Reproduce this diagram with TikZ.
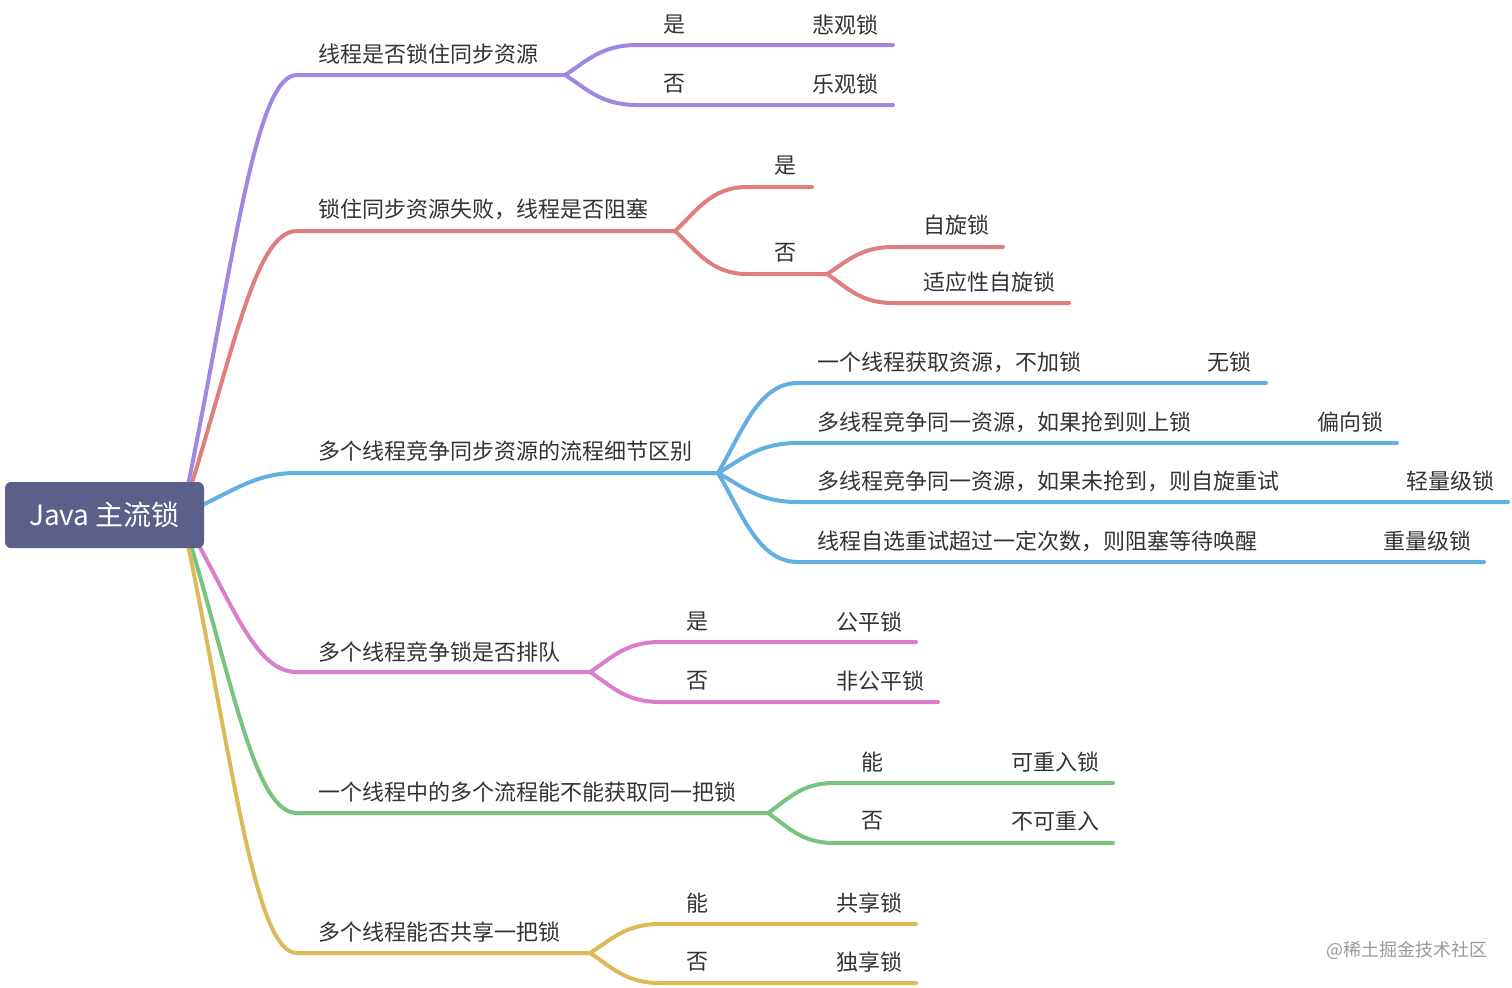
\documentclass[tikz,border=0pt]{standalone}
\usepackage{fontspec}
\setmainfont{Noto Sans CJK SC}
\usetikzlibrary{calc}
\definecolor{RootSlate}{HTML}{5B5F8A}
\definecolor{LabelGray}{HTML}{333333}
\definecolor{BrPurple}{HTML}{A087E1}
\definecolor{BrRed}{HTML}{E07D7D}
\definecolor{BrBlue}{HTML}{63AFE2}
\definecolor{BrPink}{HTML}{DA7DCD}
\definecolor{BrGreen}{HTML}{78C37E}
\definecolor{BrYellow}{HTML}{DEB95A}

\tikzset{
  branch/.style={line width=2pt, line cap=round},
  lbl/.style={anchor=west, inner sep=0pt, text=LabelGray, font=\fontsize{11}{13}\selectfont},
  rootbox/.style={fill=RootSlate, rounded corners=3pt, minimum width=99.5pt,
    minimum height=33pt, text=white, font=\fontsize{14}{17}\selectfont},
}
% curve from the hub, then straight on
\newcommand{\rootcurve}[4]{\draw[branch,#1] (#2) let \p1=(#2), \p2=(#3) in
  .. controls ({\x1+0.45*(\x2-\x1)},{\y1+0.57*(\y2-\y1)}) and ({\x1+0.63*(\x2-\x1)},\y2) .. (#3) -- (#4);}
% fork of a sub branch
\newcommand{\forkcurve}[4]{\draw[branch,#1] (#2) let \p1=(#2), \p2=(#3) in
  .. controls ({\x1+0.3*(\x2-\x1)},{\y1+0.45*(\y2-\y1)}) and ({\x1+0.5*(\x2-\x1)},\y2) .. (#3) -- (#4);}

\begin{document}
\begin{tikzpicture}[x=0.5pt, y=-0.5pt]
  \useasboundingbox (0,0) rectangle (1512,987);

  % hub and first level
  \coordinate (hub) at (182,515);
  \coordinate (b1) at (297,75);  \coordinate (f1) at (565,75);
  \coordinate (b2) at (297,231); \coordinate (f2) at (675,231);
  \coordinate (b3) at (297,473); \coordinate (f3) at (718,473);
  \coordinate (b4) at (297,672); \coordinate (f4) at (590,672);
  \coordinate (b5) at (297,813); \coordinate (f5) at (768,813);
  \coordinate (b6) at (297,953); \coordinate (f6) at (590,953);

  \rootcurve{BrPurple}{hub}{b1}{f1}
  \rootcurve{BrRed}{hub}{b2}{f2}
  \rootcurve{BrBlue}{hub}{b3}{f3}
  \rootcurve{BrPink}{hub}{b4}{f4}
  \rootcurve{BrGreen}{hub}{b5}{f5}
  \rootcurve{BrYellow}{hub}{b6}{f6}

  \node[lbl] (t1) at (318,54)  {线程是否锁住同步资源};
  \node[lbl] (t2) at (318,209) {锁住同步资源失败，线程是否阻塞};
  \node[lbl] (t3) at (318,451) {多个线程竞争同步资源的流程细节区别};
  \node[lbl] (t4) at (318,652) {多个线程竞争锁是否排队};
  \node[lbl] (t5) at (318,792) {一个线程中的多个流程能不能获取同一把锁};
  \node[lbl] (t6) at (318,932) {多个线程能否共享一把锁};

  % purple: pessimistic / optimistic
  \coordinate (c1a) at (637,45);  \coordinate (e1a) at (893,45);
  \coordinate (c1b) at (637,105); \coordinate (e1b) at (893,105);
  \forkcurve{BrPurple}{f1}{c1a}{e1a}
  \forkcurve{BrPurple}{f1}{c1b}{e1b}
  \node[lbl] (y1) at (663,25) {是};   \node[lbl] (k1a) at (812,25) {悲观锁};
  \node[lbl] (n1) at (663,84) {否};   \node[lbl] (k1b) at (812,84) {乐观锁};

  % red: blocking
  \coordinate (c2a) at (747,187); \coordinate (e2a) at (812,187);
  \coordinate (c2b) at (747,274); \coordinate (f2b) at (827,274);
  \forkcurve{BrRed}{f2}{c2a}{e2a}
  \forkcurve{BrRed}{f2}{c2b}{f2b}
  \node[lbl] (y2) at (774,166) {是};
  \node[lbl] (n2) at (774,253) {否};
  \coordinate (c2c) at (893,247); \coordinate (e2c) at (1003,247);
  \coordinate (c2d) at (893,303); \coordinate (e2d) at (1069,303);
  \forkcurve{BrRed}{f2b}{c2c}{e2c}
  \forkcurve{BrRed}{f2b}{c2d}{e2d}
  \node[lbl] (k2c) at (923,225) {自旋锁};
  \node[lbl] (k2d) at (923,282) {适应性自旋锁};

  % blue: lock states
  \coordinate (c3a) at (798,383); \coordinate (e3a) at (1266,383);
  \coordinate (c3b) at (798,443); \coordinate (e3b) at (1397,443);
  \coordinate (c3c) at (798,502); \coordinate (e3c) at (1508,502);
  \coordinate (c3d) at (798,562); \coordinate (e3d) at (1484,562);
  \forkcurve{BrBlue}{f3}{c3a}{e3a}
  \forkcurve{BrBlue}{f3}{c3b}{e3b}
  \forkcurve{BrBlue}{f3}{c3c}{e3c}
  \forkcurve{BrBlue}{f3}{c3d}{e3d}
  \node[lbl] (s3a) at (817,362) {一个线程获取资源，不加锁};
  \node[lbl] (k3a) at (1207,362) {无锁};
  \node[lbl] (s3b) at (817,422) {多线程竞争同一资源，如果抢到则上锁};
  \node[lbl] (k3b) at (1317,422) {偏向锁};
  \node[lbl] (s3c) at (817,481) {多线程竞争同一资源，如果未抢到，则自旋重试};
  \node[lbl] (k3c) at (1406,481) {轻量级锁};
  \node[lbl] (s3d) at (817,541) {线程自选重试超过一定次数，则阻塞等待唤醒};
  \node[lbl] (k3d) at (1383,541) {重量级锁};

  % pink: fairness
  \coordinate (c4a) at (660,642); \coordinate (e4a) at (916,642);
  \coordinate (c4b) at (660,702); \coordinate (e4b) at (938,702);
  \forkcurve{BrPink}{f4}{c4a}{e4a}
  \forkcurve{BrPink}{f4}{c4b}{e4b}
  \node[lbl] (y4) at (686,622) {是};   \node[lbl] (k4a) at (836,622) {公平锁};
  \node[lbl] (n4) at (686,681) {否};   \node[lbl] (k4b) at (836,681) {非公平锁};

  % green: reentrant
  \coordinate (c5a) at (834,783); \coordinate (e5a) at (1113,783);
  \coordinate (c5b) at (834,843); \coordinate (e5b) at (1113,843);
  \forkcurve{BrGreen}{f5}{c5a}{e5a}
  \forkcurve{BrGreen}{f5}{c5b}{e5b}
  \node[lbl] (y5) at (861,762) {能};   \node[lbl] (k5a) at (1011,762) {可重入锁};
  \node[lbl] (n5) at (861,821) {否};   \node[lbl] (k5b) at (1011,821) {不可重入};

  % yellow: shared
  \coordinate (c6a) at (660,924); \coordinate (e6a) at (916,924);
  \coordinate (c6b) at (660,983); \coordinate (e6b) at (916,983);
  \forkcurve{BrYellow}{f6}{c6a}{e6a}
  \forkcurve{BrYellow}{f6}{c6b}{e6b}
  \node[lbl] (y6) at (686,903) {能};   \node[lbl] (k6a) at (836,903) {共享锁};
  \node[lbl] (n6) at (686,962) {否};   \node[lbl] (k6b) at (836,962) {独享锁};

  % root on top of the curves
  \node[rootbox] (root) at (104.5,515) {Java 主流锁};

  \node[anchor=west, inner sep=0pt, text=black!40, font=\fontsize{9}{11}\selectfont]
    (mark) at (1326,950) {@稀土掘金技术社区};
\end{tikzpicture}
\end{document}
